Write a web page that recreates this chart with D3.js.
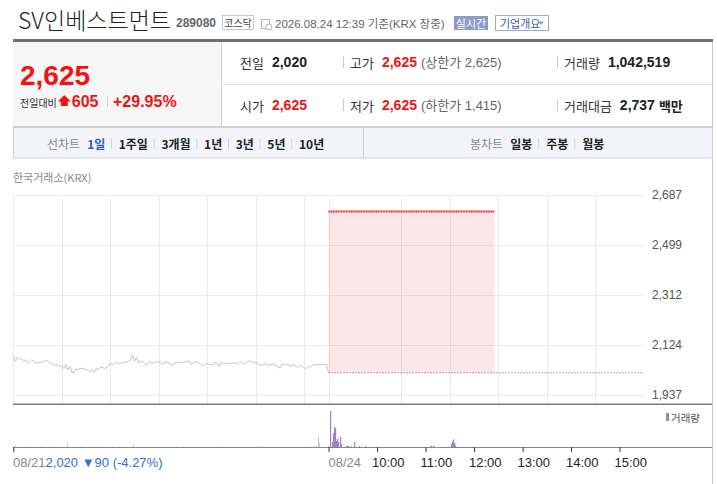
<!DOCTYPE html>
<html>
<head>
<meta charset="utf-8">
<script src="https://cdn.jsdelivr.net/npm/d3@7"></script>
<style>
  body { margin: 0; background: #fff; }
  svg { display: block; }
  text { font-family: "Liberation Sans", Arial, "Noto Sans CJK KR", sans-serif; }
  .kr { font-family: "Noto Sans CJK KR", sans-serif; }
</style>
</head>
<body>
<div id="chart"></div>
<script>
// ---- data ----
const stockName = "SV인베스트먼트";
const stockCode = "289080";
const market = "코스닥";
const stamp = "2026.08.24 12:39 기준(KRX 장중)";

const curPrice = "2,625";
const diff = "605";
const diffPct = "+29.95%";

// info table: [label, value, extra, valueIsRed]
const infoRow1 = [["전일", "2,020", "", false], ["고가", "2,625", "(상한가 2,625)", true], ["거래량", "1,042,519", "", false]];
const infoRow2 = [["시가", "2,625", "", true], ["저가", "2,625", "(하한가 1,415)", true], ["거래대금", "2,737 백만", "", false]];

const lineTabs = ["1일", "1주일", "3개월", "1년", "3년", "5년", "10년"];
const candleTabs = ["일봉", "주봉", "월봉"];

const yTicks = [1937, 2124, 2312, 2499, 2687];
const yTickLabels = ["1,937", "2,124", "2,312", "2,499", "2,687"];

// 08/21 session, one price every 2.5 minutes from 09:00 to 15:30
const prevStep = 2.5;
const prevPrice = [
  2085, 2063, 2078, 2070, 2074, 2066, 2068, 2057, 2061, 2068,
  2065, 2057, 2060, 2057, 2063, 2061, 2066, 2065, 2060, 2054,
  2050, 2048, 2051, 2045, 2047, 2036, 2051, 2032, 2044, 2023,
  2020, 2036, 2031, 2038, 2035, 2036, 2032, 2030, 2025, 2032,
  2021, 2036, 2032, 2040, 2041, 2036, 2040, 2044, 2057, 2050,
  2055, 2060, 2053, 2057, 2057, 2060, 2061, 2063, 2069, 2088,
  2063, 2078, 2057, 2063, 2063, 2055, 2050, 2061, 2061, 2057,
  2059, 2063, 2061, 2060, 2050, 2061, 2061, 2057, 2054, 2046,
  2057, 2061, 2057, 2061, 2060, 2061, 2063, 2065, 2050, 2057,
  2063, 2060, 2057, 2051, 2048, 2055, 2053, 2053, 2050, 2053,
  2059, 2057, 2044, 2061, 2053, 2057, 2055, 2053, 2057, 2057,
  2057, 2054, 2061, 2060, 2053, 2057, 2065, 2063, 2063, 2057,
  2061, 2053, 2050, 2048, 2053, 2055, 2048, 2051, 2050, 2053,
  2046, 2044, 2038, 2053, 2050, 2051, 2053, 2044, 2048, 2051,
  2044, 2041, 2048, 2046, 2038, 2036, 2044, 2041, 2048, 2050,
  2051, 2051, 2051, 2051, 2051, 2051, 2020
];
const prevClose = 2020;

// 08/24 session (limit up all morning)
const todayTimes = ["09:00", "12:25"];
const todayPrice = [2625, 2625];

// volume: [minute since 09:00, shares]
const prevVol = [
  [2, 5000], [14, 4000], [27, 4000], [35, 5000], [45, 4000], [57, 5000], [66, 18000],
  [78, 4000], [85, 5000], [99, 4000], [109, 4000], [122, 5000], [148, 12000], [210, 5000],
  [252, 5000], [303, 4000], [309, 4000], [361, 5000], [371, 5000], [374, 6000],
  [377, 50000], [378, 22000], [389, 5000]
];
const todayVol = [
  [2, 180000], [4, 25000], [5, 40000], [6, 70000], [7, 100000], [8, 95000], [9, 30000],
  [10, 40000], [11, 20000], [12, 25000], [14, 50000], [16, 15000], [22, 5000], [23, 5000],
  [24, 6000], [28, 5000], [32, 25000], [38, 5000], [45, 5000], [125, 4000], [127, 6000],
  [129, 7000], [151, 6000], [152, 15000], [153, 25000], [154, 38000], [155, 20000], [156, 8000]
];

const timeTicks = [390, 450, 510, 570, 630, 690, 750];
const timeLabels = ["08/24", "10:00", "11:00", "12:00", "13:00", "14:00", "15:00"];
const prevDayLabel = "08/21";
const prevDayInfo = "2,020 ▼90 (-4.27%)";

// ---- drawing ----
const W = 717, H = 484;
const RED = "#ee1414";
const svg = d3.select("#chart").append("svg").attr("width", W).attr("height", H);

const toMin = t => { const [h, m] = t.split(":").map(Number); return (h - 9) * 60 + m; };

// header
svg.append("text").attr("class", "kr").attr("x", 18).attr("y", 29)
  .style("font-size", "23px").style("font-weight", 300).attr("fill", "#222").text(stockName);
svg.append("text").attr("x", 176).attr("y", 27).style("font-size", "12px")
  .style("font-weight", "bold").attr("fill", "#666").text(stockCode);
svg.append("rect").attr("x", 222.5).attr("y", 15.5).attr("width", 31).attr("height", 14)
  .attr("fill", "#fff").attr("stroke", "#c8c8c8");
svg.append("text").attr("class", "kr").attr("x", 238).attr("y", 22.5).attr("text-anchor", "middle")
  .attr("dominant-baseline", "central").style("font-size", "10px").attr("fill", "#444").text(market);
// little calendar icon
svg.append("rect").attr("x", 261.5).attr("y", 19.5).attr("width", 8).attr("height", 9)
  .attr("fill", "none").attr("stroke", "#b5b5b5");
svg.append("circle").attr("cx", 269).attr("cy", 27).attr("r", 3).attr("fill", "#fff").attr("stroke", "#b5b5b5");
svg.append("text").attr("x", 275).attr("y", 27.5).style("font-size", "11.5px").attr("fill", "#666").text(stamp);
svg.append("rect").attr("x", 454).attr("y", 16).attr("width", 34).attr("height", 14).attr("fill", "#8c9bc8");
svg.append("text").attr("class", "kr").attr("x", 471).attr("y", 23).attr("text-anchor", "middle")
  .attr("dominant-baseline", "central").style("font-size", "11px").attr("fill", "#fff").text("실시간");
svg.append("rect").attr("x", 495.5).attr("y", 15.5).attr("width", 53).attr("height", 15)
  .attr("fill", "#fff").attr("stroke", "#9aa8d0");
svg.append("text").attr("class", "kr").attr("x", 500).attr("y", 23).attr("dominant-baseline", "central")
  .style("font-size", "11px").attr("fill", "#3d5aa8").text("기업개요");
svg.append("path").attr("d", "M538,21.5 L544,21.5 L541,25 Z").attr("fill", "#8a9ac0");

// frame lines
svg.append("rect").attr("x", 13).attr("y", 39).attr("width", 700).attr("height", 3).attr("fill", "#6d7177");
svg.append("rect").attr("x", 13).attr("y", 42).attr("width", 208).attr("height", 84).attr("fill", "#f6f6f6");
svg.append("line").attr("x1", 221.5).attr("x2", 221.5).attr("y1", 42).attr("y2", 127).attr("stroke", "#cfcfcf");
svg.append("line").attr("x1", 221).attr("x2", 712).attr("y1", 84.5).attr("y2", 84.5).attr("stroke", "#e4e4e4");
svg.append("line").attr("x1", 712.5).attr("x2", 712.5).attr("y1", 42).attr("y2", H).attr("stroke", "#c8c8c8");

// current price block
svg.append("text").attr("x", 20).attr("y", 85).style("font-size", "28px").style("font-weight", "bold")
  .attr("fill", RED).text(curPrice);
const vsLab = svg.append("text").attr("class", "kr").attr("x", 20).attr("y", 102).attr("dominant-baseline", "central")
  .style("font-size", "10px").attr("fill", "#333").text("전일대비");
const ax = 20 + vsLab.node().getComputedTextLength() + 1;
svg.append("path").attr("transform", `translate(${ax},0)`)
  .attr("d", "M0,101.5 L6.5,95 L13,101.5 L10,101.5 L10,106 L3,106 L3,101.5 Z").attr("fill", RED);
svg.append("text").attr("x", ax + 14).attr("y", 107).style("font-size", "16px").style("font-weight", "bold")
  .attr("fill", RED).text(diff);
svg.append("line").attr("x1", 107.5).attr("x2", 107.5).attr("y1", 96).attr("y2", 107).attr("stroke", "#d0d0d0");
svg.append("text").attr("x", 113).attr("y", 107).style("font-size", "16px").style("font-weight", "bold")
  .attr("fill", RED).text(diffPct);

// info table
const colX = [240, 350, 564];
function infoRow(row, cy) {
  row.forEach((d, i) => {
    const lab = svg.append("text").attr("class", "kr").attr("x", colX[i]).attr("y", cy)
      .attr("dominant-baseline", "central").style("font-size", "13px").attr("fill", "#333").text(d[0]);
    let vx = colX[i] + lab.node().getComputedTextLength() + 8;
    const parts = d[1].split(" ");
    const val = svg.append("text").attr("x", vx).attr("y", cy).attr("dominant-baseline", "central")
      .style("font-size", "14px").style("font-weight", "bold").attr("fill", d[3] ? RED : "#222").text(parts[0]);
    vx += val.node().getComputedTextLength() + 4;
    if (parts[1]) {
      svg.append("text").attr("class", "kr").attr("x", vx).attr("y", cy).attr("dominant-baseline", "central")
        .style("font-size", "13px").style("font-weight", "bold").attr("fill", "#222").text(parts[1]);
    }
    if (d[2]) {
      svg.append("text").attr("x", vx).attr("y", cy).attr("dominant-baseline", "central")
        .style("font-size", "13px").attr("fill", "#666").text(d[2]);
    }
    if (i > 0) {
      svg.append("line").attr("x1", colX[i] - 6.5).attr("x2", colX[i] - 6.5)
        .attr("y1", cy - 6).attr("y2", cy + 6).attr("stroke", "#cccccc");
    }
  });
}
infoRow(infoRow1, 62);
infoRow(infoRow2, 105);
svg.append("line").attr("x1", 13).attr("x2", 712).attr("y1", 126.5).attr("y2", 126.5).attr("stroke", "#cfcfcf");

// tabs bar
svg.append("rect").attr("x", 13.5).attr("y", 127.5).attr("width", 699).attr("height", 30.5)
  .attr("fill", "#f3f4f8").attr("stroke", "#cfd1d6");
svg.append("line").attr("x1", 363.5).attr("x2", 363.5).attr("y1", 128).attr("y2", 158).attr("stroke", "#cfd1d6");
function tabs(title, x0, items, activeIdx, gap) {
  const t = svg.append("text").attr("class", "kr").attr("x", x0).attr("y", 143)
    .attr("dominant-baseline", "central").style("font-size", "12px").attr("fill", "#8a8a8a").text(title);
  let x = x0 + t.node().getComputedTextLength() + 7;
  items.forEach((s, i) => {
    if (i > 0) {
      svg.append("line").attr("x1", x - gap / 2 - 0.5).attr("x2", x - gap / 2 - 0.5)
        .attr("y1", 138).attr("y2", 149).attr("stroke", "#d4d4d4");
    }
    const el = svg.append("text").attr("class", "kr").attr("x", x).attr("y", 143)
      .attr("dominant-baseline", "central").style("font-size", "12px").style("font-weight", "bold")
      .attr("fill", i === activeIdx ? "#2b58c9" : "#222").text(s);
    x += el.node().getComputedTextLength() + gap;
  });
}
tabs("선차트", 47, lineTabs, 0, 13.5);
tabs("봉차트", 470, candleTabs, -1, 14);

svg.append("text").attr("class", "kr").attr("x", 13).attr("y", 177).attr("dominant-baseline", "central")
  .style("font-size", "11px").attr("fill", "#888").text("한국거래소(KRX)");

// scales
const x = d3.scaleLinear().domain([0, 780]).range([13.3, 643.8]);
const y = d3.scaleLinear().domain([1937, 2687]).range([395, 195]);
const yVol = d3.scaleLinear().domain([0, 200000]).range([447, 407]);

// grid
const hourGrid = d3.range(0, 780, 60).filter(m => m !== 420).concat([390]).sort((a, b) => a - b);
svg.append("g").selectAll("line").data(hourGrid).join("line")
  .attr("x1", d => Math.round(x(d)) + 0.5).attr("x2", d => Math.round(x(d)) + 0.5)
  .attr("y1", 195).attr("y2", 404).attr("stroke", "#ebebeb");
svg.append("g").selectAll("line").data(yTicks).join("line")
  .attr("x1", x(0)).attr("x2", x(780))
  .attr("y1", d => Math.round(y(d)) + 0.5).attr("y2", d => Math.round(y(d)) + 0.5).attr("stroke", "#ebebeb");

svg.append("g").attr("transform", "translate(652,0)")
  .call(d3.axisRight(y).tickValues(yTicks).tickSize(0).tickPadding(0)
    .tickFormat((d, i) => yTickLabels[i]))
  .call(g => g.select(".domain").remove())
  .call(g => g.selectAll("text").style("font-size", "12px").attr("fill", "#555")
    .style("font-family", '"Liberation Sans", Arial, sans-serif'));

// today's fill + line
const today = todayTimes.map((t, i) => ({ m: 390 + toMin(t), v: todayPrice[i] }));
svg.append("path").datum(today)
  .attr("d", d3.area().x(d => x(d.m)).y0(y(prevClose)).y1(d => y(d.v)))
  .attr("fill", "rgba(242, 90, 110, 0.15)");
svg.append("line").attr("x1", x(390)).attr("x2", x(780))
  .attr("y1", y(prevClose)).attr("y2", y(prevClose))
  .attr("stroke", "#555").attr("stroke-dasharray", "1,2");
const line = d3.line().x(d => x(d.m)).y(d => y(d.v));
svg.append("path").datum(today).attr("d", line).attr("fill", "none")
  .attr("stroke", "#f58a8a").attr("stroke-width", 2.5);
svg.append("path").datum(today).attr("d", line).attr("fill", "none")
  .attr("stroke", "#e3323c").attr("stroke-width", 1.2).attr("stroke-dasharray", "1,1.5");

// 08/21 line
svg.append("path").datum(prevPrice.map((v, i) => ({ m: i * prevStep, v })))
  .attr("d", line).attr("fill", "none").attr("stroke", "#bfc2c8").attr("stroke-width", 1);

// separator between price and volume
svg.append("rect").attr("x", 13).attr("y", 403.5).attr("width", 699).attr("height", 1.5).attr("fill", "#7a7a7a");

// volume bars
svg.append("g").selectAll("rect").data(prevVol).join("rect")
  .attr("x", d => Math.round(x(d[0]))).attr("width", 1)
  .attr("y", d => yVol(d[1])).attr("height", d => yVol(0) - yVol(d[1])).attr("fill", "#c9c9c9");
svg.append("g").selectAll("rect").data(todayVol).join("rect")
  .attr("x", d => Math.round(x(390 + d[0]))).attr("width", 1.2)
  .attr("y", d => yVol(d[1])).attr("height", d => yVol(0) - yVol(d[1])).attr("fill", "#9a84c4");

svg.append("rect").attr("x", 666).attr("y", 413).attr("width", 3).attr("height", 8).attr("fill", "#9a84c4");
svg.append("text").attr("class", "kr").attr("x", 671).attr("y", 417).attr("dominant-baseline", "central")
  .style("font-size", "10.5px").attr("fill", "#555").text("거래량");

// time axis
const xAxis = svg.append("g").attr("transform", "translate(0,447)")
  .call(d3.axisBottom(x).tickValues([0].concat(timeTicks)).tickSize(5).tickSizeOuter(0)
    .tickFormat(() => ""));
xAxis.select(".domain").attr("d", "M13,0.5H712").attr("stroke", "#888");
xAxis.selectAll(".tick line").attr("stroke", "#333");

svg.append("g").selectAll("text").data(timeTicks).join("text")
  .attr("x", (d, i) => x(d) + (i === 0 ? 0 : -5)).attr("y", 462).attr("dominant-baseline", "central")
  .style("font-size", "13px").attr("fill", (d, i) => i === 0 ? "#888" : "#222")
  .text((d, i) => timeLabels[i]);

const bl = svg.append("text").attr("x", 13).attr("y", 462).attr("dominant-baseline", "central")
  .style("font-size", "13px");
bl.append("tspan").attr("fill", "#888").text(prevDayLabel);
bl.append("tspan").attr("fill", "#2f6fd6").text(prevDayInfo);
</script>
</body>
</html>
